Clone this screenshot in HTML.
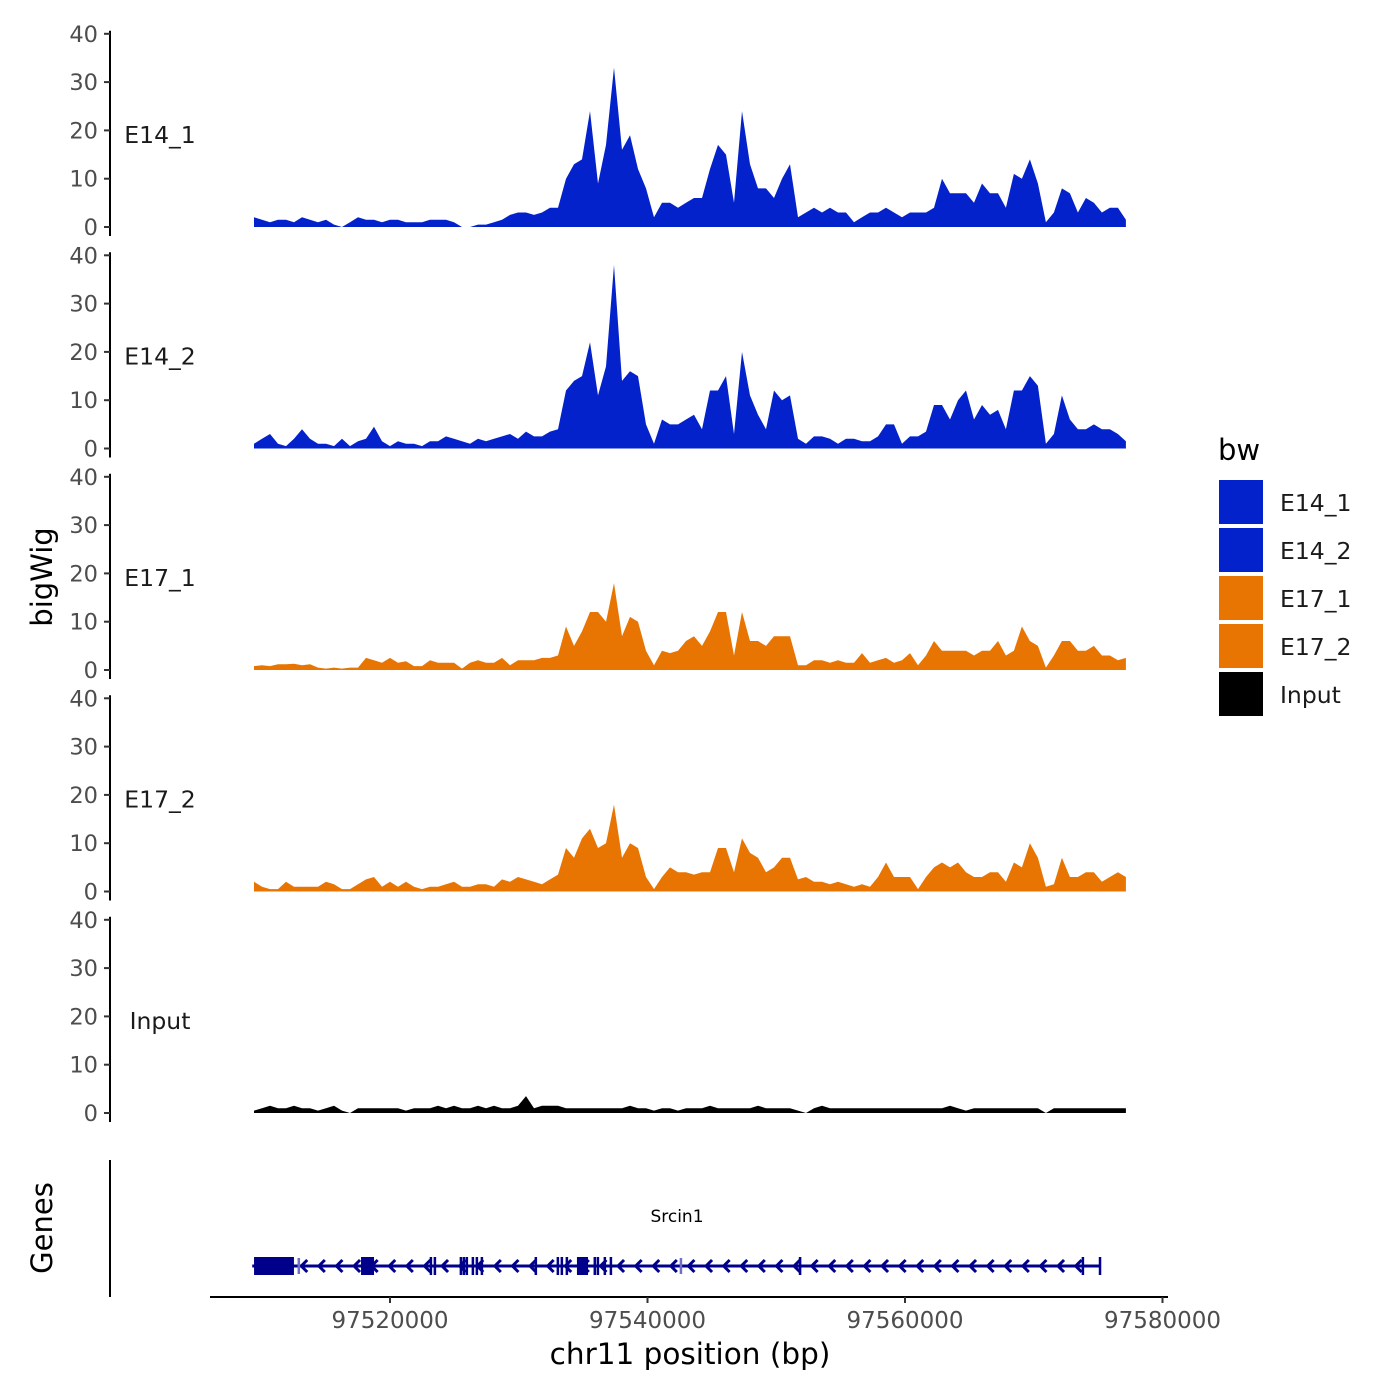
<!DOCTYPE html>
<html><head><meta charset="utf-8"><style>
body{margin:0;background:#fff;}
svg{display:block;font-family:"DejaVu Sans","Liberation Sans",sans-serif;}
</style></head><body>
<svg id="chart" width="1400" height="1400" viewBox="0 0 1400 1400" xmlns="http://www.w3.org/2000/svg">
<rect width="1400" height="1400" fill="#fff"/>
<g id="panels"></g>
<g id="genes"></g>
<g id="xaxis"></g>
<text x="0" y="0" dominant-baseline="central" transform="translate(42,577) rotate(-90)" text-anchor="middle" font-size="29" fill="#000">bigWig</text>
<text x="0" y="0" dominant-baseline="central" transform="translate(42,1228) rotate(-90)" text-anchor="middle" font-size="29" fill="#000">Genes</text>
<text x="690" y="1354" dominant-baseline="central" text-anchor="middle" font-size="29.5" fill="#000">chr11 position (bp)</text>
<g>
<text x="1218" y="450" dominant-baseline="central" font-size="29" fill="#000">bw</text>
<g id="legend"></g>
</g>
</svg>
<script>
const NS="http://www.w3.org/2000/svg";
const trackNames=["E14_1","E14_2","E17_1","E17_2","Input"];
const trackColors=["#0322CC","#0322CC","#E87502","#E87502","#000000"];
const yTicks=[0,10,20,30,40];
const xTicks=[97520000,97540000,97560000,97580000];
const regionStart=97509440, regionEnd=97577160;
const e14_1=[2,1.5,1,1.5,1.5,1,2,1.5,1,1.5,0.5,0,1,2,1.5,1.5,1,1.5,1.5,1,1,1,1.5,1.5,1.5,1,0,0,0.5,0.5,1,1.5,2.5,3,3,2.5,3,4,4,10,13,14,24,9,17,33,16,19,12,8,2,5,5,4,5,6,6,12,17,15,5,24,13,8,8,6,10,13,2,3,4,3,4,3,3,1,2,3,3,4,3,2,3,3,3,4,10,7,7,7,5,9,7,7,4,11,10,14,9,1,3,8,7,3,6,5,3,4,4,1.5];
const e14_2=[1,2,3,1,0.5,2,4,2,1,1,0.5,2,0.5,1.5,2,4.5,1.5,0.5,1.5,1,1,0.5,1.5,1.5,2.5,2,1.5,1,2,1.5,2,2.5,3,2,3.5,2.5,2.5,3.5,4,12,14,15,22,11,17,38,14,16,15,5,1,6,5,5,6,7,4,12,12,15,3,20,11,7,4,12,10,11,2,1,2.5,2.5,2,1,2,2,1.5,1.5,2.5,5,5,1,2.5,2.5,3.5,9,9,6,10,12,6,9,7,8,4,12,12,15,13,1,3,11,6,4,4,5,4,4,3,1.5];
const e17_1=[0.8,1,0.8,1.2,1.2,1.3,1,1.2,0.5,0.3,0.5,0.3,0.5,0.5,2.5,2,1.5,2.5,1.5,1.8,0.8,0.8,2,1.5,1.5,1.5,0.3,1.5,2,1.5,1.5,2.5,1,2,2,2,2.5,2.5,3,9,5,8,12,12,10,18,7,11,10,4,1,4,3.5,4,6,7,5,8,12,12,3,12,6,6,5,7,7,7,1,1,2,2,1.5,2,1.5,1.5,3.5,1.5,2,2.5,1.5,2,3.5,1,3,6,4,4,4,4,3,4,4,6,3,4,9,6,5,0.5,3,6,6,4,4,5,3,3,2,2.5];
const e17_2=[2,1,0.5,0.5,2,1,1,1,1,2,1.5,0.5,0.5,1.5,2.5,3,1,2,1,2,1,0.5,1,1,1.5,2,1,1,1.5,1.5,1,2.5,2,3,2.5,2,1.5,2.5,3.5,9,7,11,13,9,10,18,7,10,9,3,0.5,3,5,4,4,3.5,4,4,9,9,4,11,8,7,4,5,7,7,2.5,3,2,2,1.5,2,1.5,1,1.5,1,3,6,3,3,3,0.5,3,5,6,5,6,4,3,3,4,4,2,6,5,10,7,1,1.5,7,3,3,4,4,2,3,4,3];
const inputTrack=[0.5,1,1.5,1,1,1.5,1,1,0.5,1,1.5,0.5,0,1,1,1,1,1,1,0.5,1,1,1,1.5,1,1.5,1,1,1.5,1,1.5,1,1,1.5,3.5,1,1.5,1.5,1.5,1,1,1,1,1,1,1,1,1.5,1,1,0.5,1,1,0.5,1,1,1,1.5,1,1,1,1,1,1.5,1,1,1,1,0.5,0,1,1.5,1,1,1,1,1,1,1,1,1,1,1,1,1,1,1,1.5,1,0.5,1,1,1,1,1,1,1,1,1,0,1,1,1,1,1,1,1,1,1,1];
const trackValues=[e14_1,e14_2,e17_1,e17_2,inputTrack];
const geneName="Srcin1";
const geneStartKb=97509.3, geneEndKb=97575.2;
const exonStartKb=[97509.44,97512.82,97517.75,97523.08,97523.39,97525.41,97525.64,97525.87,97526.34,97526.65,97527.04,97531.23,97532.94,97533.25,97533.64,97534.52,97535.81,97536.05,97536.59,97537.06,97542.50,97551.75,97573.72,97575.05];
const exonEndKb=[97512.54,97512.92,97518.76,97523.22,97523.53,97525.55,97525.78,97526.01,97526.48,97526.79,97527.18,97531.37,97533.08,97533.39,97533.78,97535.38,97535.95,97536.19,97536.73,97537.20,97542.58,97551.95,97573.86,97575.2];
const exonThin=[false,true,false,false,false,false,false,false,false,false,false,false,false,false,false,false,false,false,false,false,true,false,false,false];

const xs=bp=>390+(bp-97520000)/20000*257.5;
const panelBase=i=>227+i*221.5;
const ys=(i,v)=>panelBase(i)-v*4.83;
function mk(tag,attrs,parent,text){const e=document.createElementNS(NS,tag);for(const k in attrs)e.setAttribute(k,attrs[k]);if(text!==undefined)e.textContent=text;parent.appendChild(e);return e;}

const panels=document.getElementById('panels');
trackNames.forEach((name,i)=>{
  const g=mk('g',{},panels);
  
  
  const axis=mk('line',{x1:110,x2:110,y1:ys(i,40)-3,y2:panelBase(i)+9,stroke:'#000','stroke-width':2},g);
  
  
  yTicks.forEach(t=>{
    const tk=mk('line',{x1:104,x2:110,y1:ys(i,t),y2:ys(i,t),stroke:'#333','stroke-width':2},g);
    
    
    const lb=mk('text',{x:98,y:ys(i,t)+1,'dominant-baseline':'central','text-anchor':'end','font-size':22.5,fill:'#4d4d4d'},g,String(t));
    
    
  });
  const lab=mk('text',{x:160,y:panelBase(i)-92,'dominant-baseline':'central','text-anchor':'middle','font-size':23.5,fill:'#1a1a1a'},g,name);
  
  
  const vals=trackValues[i];
  const n=vals.length;
  let d='M'+xs(regionStart).toFixed(1)+','+panelBase(i);
  vals.forEach((v,k)=>{const bp=regionStart+(regionEnd-regionStart)*k/(n-1);d+=' L'+xs(bp).toFixed(1)+','+ys(i,v).toFixed(1);});
  d+=' L'+xs(regionEnd).toFixed(1)+','+panelBase(i)+' Z';
  const area=mk('path',{d:d,fill:trackColors[i],stroke:'none'},g);
  
  
});

const leg=document.getElementById('legend');
trackNames.forEach((name,i)=>{
  const r=mk('rect',{x:1219,y:480+i*48,width:44,height:44,fill:trackColors[i]},leg);
  
  
  const t=mk('text',{x:1280,y:503+i*48,'dominant-baseline':'central','font-size':23.5,fill:'#1a1a1a'},leg,name);
  
  
});

const gg=document.getElementById('genes');
const gax=mk('line',{x1:110,x2:110,y1:1160,y2:1297,stroke:'#000','stroke-width':2},gg);


const gy=1266;
const gl=mk('line',{x1:xs(geneStartKb*1000),x2:xs(geneEndKb*1000),y1:gy,y2:gy,stroke:'#00008B','stroke-width':3},gg);


for(let x=xs(geneStartKb*1000)+50;x<xs(geneEndKb*1000)-10;x+=17.6){
  const a=mk('path',{d:`M${x+5},${gy-6} L${x-1},${gy} L${x+5},${gy+6}`,fill:'none',stroke:'#00008B','stroke-width':3},gg);
  
  
}
exonStartKb.forEach((s,k)=>{
  const x1=xs(s*1000),x2=xs(exonEndKb[k]*1000);
  const h=exonThin[k]?16:18;
  const e=mk('rect',{x:x1,y:gy-h/2,width:Math.max(2.5,x2-x1),height:h,fill:exonThin[k]?'#6f6fc8':'#00008B'},gg);
  
  
});
const gn=mk('text',{x:677,y:1217,'dominant-baseline':'central','text-anchor':'middle','font-size':17,fill:'#000'},gg,geneName);



const xa=document.getElementById('xaxis');
const xl=mk('line',{x1:210,x2:1168,y1:1297,y2:1297,stroke:'#000','stroke-width':2},xa);


xTicks.forEach(t=>{
  const tk=mk('line',{x1:xs(t),x2:xs(t),y1:1297,y2:1303,stroke:'#333','stroke-width':2},xa);
  
  
  const lb=mk('text',{x:xs(t),y:1321,'dominant-baseline':'central','text-anchor':'middle','font-size':23,fill:'#4d4d4d'},xa,String(t));
  
  
});
</script>
</body></html>
